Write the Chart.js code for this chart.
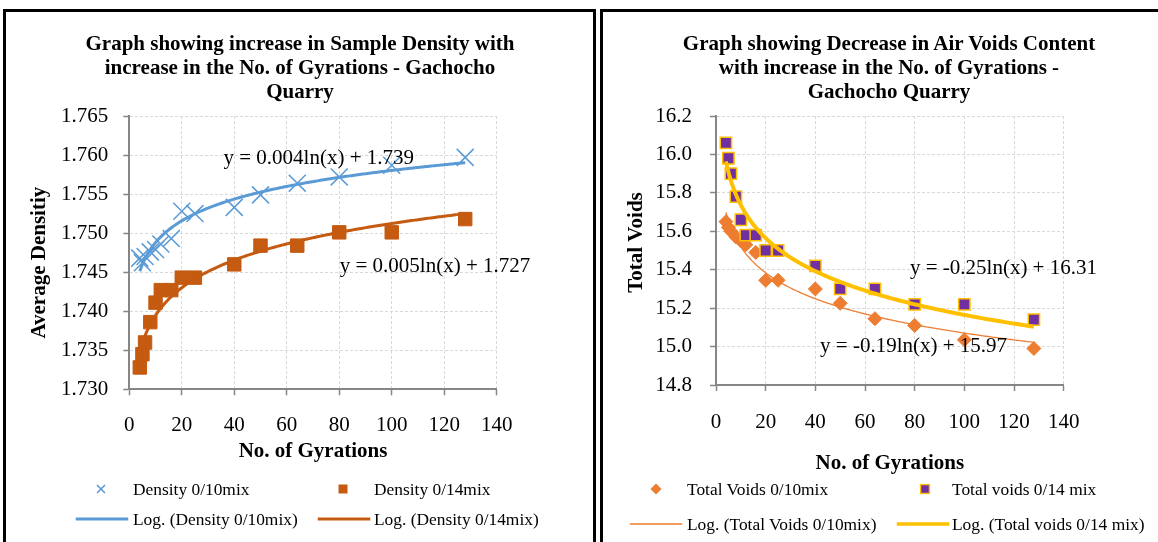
<!DOCTYPE html>
<html><head><meta charset="utf-8">
<script src="https://cdn.jsdelivr.net/npm/chart.js@4.4.1/dist/chart.umd.min.js"></script>
<style>
html,body{margin:0;padding:0;background:#fff;overflow:hidden;width:1158px;height:542px;position:relative;}
.panel{position:absolute;top:9px;height:570px;border:3px solid #000;background:#fff;box-sizing:border-box;}
#p1{left:3px;width:593px;}
#p2{left:600px;width:578px;}
canvas{position:absolute;left:0;top:0;}
.ttl{position:absolute;top:31px;text-align:center;font-family:'Liberation Serif','Times New Roman',serif;font-weight:bold;font-size:21px;line-height:24px;color:#000;white-space:nowrap;}
.leg{position:absolute;font-family:'Liberation Serif','Times New Roman',serif;font-size:17.4px;color:#000;line-height:20px;white-space:nowrap;transform:translateY(-50%);}
.mk{position:absolute;transform:translate(-50%,-50%);}
</style></head>
<body>
<div class="panel" id="p1"><canvas id="c1" width="587" height="530" style="width:587px;height:530px"></canvas></div>
<div class="panel" id="p2"><canvas id="c2" width="572" height="530" style="width:572px;height:530px"></canvas></div>
<div class="ttl" id="t1" style="left:0px;width:600px"></div>
<div class="ttl" id="t2" style="left:600px;width:578px"></div>

<!-- legend left -->
<svg class="mk" style="left:101px;top:489px" width="10" height="10"><path d="M1 1L9 9M9 1L1 9" stroke="#5B9BD5" stroke-width="1.6"/></svg>
<div class="leg" style="left:133px;top:489px">Density 0/10mix</div>
<svg class="mk" style="left:343px;top:489px" width="10" height="10"><rect x="0.5" y="0.5" width="9" height="9" fill="#C55A11"/></svg>
<div class="leg" style="left:374px;top:489px">Density 0/14mix</div>
<svg class="mk" style="left:102px;top:519px" width="53" height="4"><line x1="0" y1="2" x2="53" y2="2" stroke="#5B9BD5" stroke-width="3"/></svg>
<div class="leg" style="left:133px;top:519px">Log. (Density 0/10mix)</div>
<svg class="mk" style="left:344px;top:519px" width="53" height="4"><line x1="0" y1="2" x2="53" y2="2" stroke="#C55A11" stroke-width="3"/></svg>
<div class="leg" style="left:374px;top:519px">Log. (Density 0/14mix)</div>

<!-- legend right -->
<svg class="mk" style="left:656px;top:489px" width="12" height="12"><path d="M6 0.5L11.5 6L6 11.5L0.5 6Z" fill="#ED7D31"/></svg>
<div class="leg" style="left:687px;top:489px">Total Voids 0/10mix</div>
<svg class="mk" style="left:925px;top:489px" width="11" height="11"><rect x="1" y="1" width="9" height="9" fill="#7030A0" stroke="#FFC000" stroke-width="1.5"/></svg>
<div class="leg" style="left:952px;top:489px">Total voids 0/14 mix</div>
<svg class="mk" style="left:656px;top:524px" width="53" height="4"><line x1="0" y1="2" x2="53" y2="2" stroke="#ED7D31" stroke-width="1.3"/></svg>
<div class="leg" style="left:687px;top:524px">Log. (Total Voids 0/10mix)</div>
<svg class="mk" style="left:923px;top:524px" width="53" height="5"><line x1="0" y1="2.5" x2="53" y2="2.5" stroke="#FFC000" stroke-width="3.5"/></svg>
<div class="leg" style="left:952px;top:524px">Log. (Total voids 0/14 mix)</div>

<script>
// ---- data ----
const gyrations = [4, 5, 6, 8, 10, 12, 16, 20, 25, 40, 50, 64, 80, 100, 128];
const density010 = [1.7468, 1.7462, 1.7470, 1.7476, 1.7479, 1.7486, 1.7493, 1.7528, 1.7525, 1.7533, 1.7549, 1.7564, 1.7572, 1.7587, 1.7597];
const density014 = [1.7328, 1.7345, 1.7360, 1.7386, 1.7411, 1.7427, 1.7427, 1.7443, 1.7443, 1.7460, 1.7484, 1.7484, 1.7501, 1.7501, 1.7518];
const voids010 = [15.65, 15.62, 15.60, 15.57, 15.55, 15.53, 15.49, 15.345, 15.345, 15.30, 15.225, 15.145, 15.11, 15.035, 14.99];
const voids014 = [16.06, 15.98, 15.90, 15.78, 15.66, 15.58, 15.58, 15.50, 15.50, 15.42, 15.30, 15.30, 15.22, 15.22, 15.14];

const xTicks = [0, 20, 40, 60, 80, 100, 120, 140];
const densityTicks = [1.730, 1.735, 1.740, 1.745, 1.750, 1.755, 1.760, 1.765];
const voidsTicks = [14.8, 15.0, 15.2, 15.4, 15.6, 15.8, 16.0, 16.2];

const titleLeft = ['Graph showing increase in Sample Density with', 'increase in the No. of Gyrations - Gachocho', 'Quarry'];
const titleRight = ['Graph showing Decrease in Air Voids Content', 'with increase in the No. of Gyrations -', 'Gachocho Quarry'];
const eqDensity = ['y = 0.004ln(x) + 1.739', 'y = 0.005ln(x) + 1.727'];
const eqVoids = ['y = -0.25ln(x) + 16.31', 'y = -0.19ln(x) + 15.97'];
// label anchors in data units [x, y]
const eqDensityPos = [[35.9, 1.7596], [80.2, 1.7457]];
const eqVoidsPos = [[78.1, 15.407], [41.9, 15.003]];

document.getElementById('t1').innerHTML = titleLeft.join('<br>');
document.getElementById('t2').innerHTML = titleRight.join('<br>');

// ---- helpers ----
function pts(xs, ys) { return xs.map((x, i) => ({x: x, y: ys[i]})); }
function logFit(xs, ys) {
  // least-squares fit y = a*ln(x) + b (Excel logarithmic trendline)
  const n = xs.length; let sx = 0, sy = 0, sxx = 0, sxy = 0;
  for (let i = 0; i < n; i++) { const l = Math.log(xs[i]); sx += l; sy += ys[i]; sxx += l * l; sxy += l * ys[i]; }
  const a = (n * sxy - sx * sy) / (n * sxx - sx * sx); const b = (sy - a * sx) / n;
  const out = []; const x0 = xs[0], x1 = xs[n - 1];
  for (let k = 0; k <= 200; k++) { const x = x0 + (x1 - x0) * k / 200; out.push({x: x, y: a * Math.log(x) + b}); }
  return out;
}

const SERIF = "'Liberation Serif','Times New Roman',serif";
Chart.defaults.font.family = SERIF;
Chart.defaults.color = '#000';

const eqPlugin = {
  id: 'eqLabels',
  afterDatasetsDraw(chart, args, opts) {
    const ctx = chart.ctx; const xs = chart.scales.x, ys = chart.scales.y;
    ctx.save(); ctx.font = '21px ' + SERIF; ctx.fillStyle = '#000';
    ctx.textAlign = 'left'; ctx.textBaseline = 'middle';
    opts.texts.forEach((t, i) => { ctx.fillText(t, xs.getPixelForValue(opts.pos[i][0]), ys.getPixelForValue(opts.pos[i][1])); });
    // rotated value-axis title
    ctx.font = 'bold 21px ' + SERIF; ctx.textAlign = 'center';
    ctx.translate(opts.yTitleX, chart.chartArea.top + (chart.chartArea.bottom - chart.chartArea.top) / 2 + opts.yTitleShift);
    ctx.rotate(-Math.PI / 2);
    ctx.fillText(opts.yTitle, 0, 0);
    ctx.restore();
  }
};

function makeChart(id, cfg) {
  return new Chart(document.getElementById(id), {
    type: 'scatter',
    data: {datasets: cfg.datasets},
    plugins: [eqPlugin],
    options: {
      responsive: false, animation: false, devicePixelRatio: 1,
      layout: {padding: {left: 0, top: 104, right: cfg.padRight, bottom: cfg.padBottom}},
      plugins: {
        legend: {display: false}, tooltip: {enabled: false}, title: {display: false},
        eqLabels: {texts: cfg.eqTexts, pos: cfg.eqPos, yTitle: cfg.yTitle, yTitleX: 34, yTitleShift: cfg.yTitleShift}
      },
      scales: {
        x: {
          type: 'linear', min: 0, max: 140,
          afterBuildTicks: s => { s.ticks = xTicks.map(v => ({value: v})); },
          afterFit: s => { s.height = cfg.xAxisH; },
          ticks: {font: {size: 21}, color: '#000', padding: cfg.xTickPad, maxRotation: 0},
          grid: {color: '#D9D9D9', lineWidth: 1, tickColor: '#868686', tickLength: 6, tickWidth: 1.5},
          border: {display: true, color: '#868686', width: 2, dash: [3, 2]},
          title: {display: true, text: 'No. of Gyrations', font: {size: 21, weight: 'bold'}, color: '#000', padding: {top: 0, bottom: cfg.xTitlePad}}
        },
        y: {
          type: 'linear', min: cfg.yMin, max: cfg.yMax,
          afterBuildTicks: s => { s.ticks = cfg.yTicks.map(v => ({value: v})); },
          afterFit: s => { s.width = cfg.yAxisW; },
          ticks: {font: {size: 21}, color: '#000', padding: cfg.yTickPad, callback: v => v.toFixed(cfg.dec)},
          grid: {color: '#D9D9D9', lineWidth: 1, tickColor: '#868686', tickLength: 6, tickWidth: 1.5},
          border: {display: true, color: '#868686', width: 2, dash: [3, 2]},
          title: {display: false}
        }
      }
    }
  });
}

makeChart('c1', {
  yTitle: 'Average Densitiy', yTitleShift: 10, yMin: 1.730, yMax: 1.765, yTicks: densityTicks, dec: 3,
  padRight: 96.3, padBottom: 72.7, xAxisH: 80, yAxisW: 123.3, xTickPad: 17.8, yTickPad: 15, xTitlePad: 4.7,
  eqTexts: eqDensity, eqPos: eqDensityPos,
  datasets: [
    {label: 'Log. (Density 0/10mix)', data: logFit(gyrations, density010), showLine: true, borderColor: '#5B9BD5', borderWidth: 3, pointRadius: 0, fill: false},
    {label: 'Log. (Density 0/14mix)', data: logFit(gyrations, density014), showLine: true, borderColor: '#C55A11', borderWidth: 3, pointRadius: 0, fill: false},
    {label: 'Density 0/10mix', data: pts(gyrations, density010), pointStyle: 'crossRot', pointRadius: 12, borderColor: '#5B9BD5', backgroundColor: '#5B9BD5', pointBorderWidth: 1.5},
    {label: 'Density 0/14mix', data: pts(gyrations, density014), pointStyle: 'rect', pointRadius: 9.5, borderColor: '#C55A11', backgroundColor: '#C55A11', pointBorderWidth: 1}
  ]
});

makeChart('c2', {
  yTitle: 'Total Voids', yTitleShift: -8, yMin: 14.8, yMax: 16.2, yTicks: voidsTicks, dec: 1,
  padRight: 111.3, padBottom: 62.6, xAxisH: 94.4, yAxisW: 113, xTickPad: 19, yTickPad: 18, xTitlePad: 2.8,
  eqTexts: eqVoids, eqPos: eqVoidsPos,
  datasets: [
    {label: 'Log. (Total voids 0/14 mix)', data: logFit(gyrations, voids014), showLine: true, borderColor: '#FFC000', borderWidth: 4, pointRadius: 0, fill: false},
    {label: 'Log. (Total Voids 0/10mix)', data: logFit(gyrations, voids010), showLine: true, borderColor: '#ED7D31', borderWidth: 1.3, pointRadius: 0, fill: false},
    {label: 'Total voids 0/14 mix', data: pts(gyrations, voids014), pointStyle: 'rect', pointRadius: 8, borderColor: '#FFC000', backgroundColor: '#7030A0', pointBorderWidth: 1.5},
    {label: 'Total Voids 0/10mix', data: pts(gyrations, voids010), pointStyle: 'rectRot', pointRadius: 7, borderColor: '#ED7D31', backgroundColor: '#ED7D31', pointBorderWidth: 1}
  ]
});
</script>
</body></html>
